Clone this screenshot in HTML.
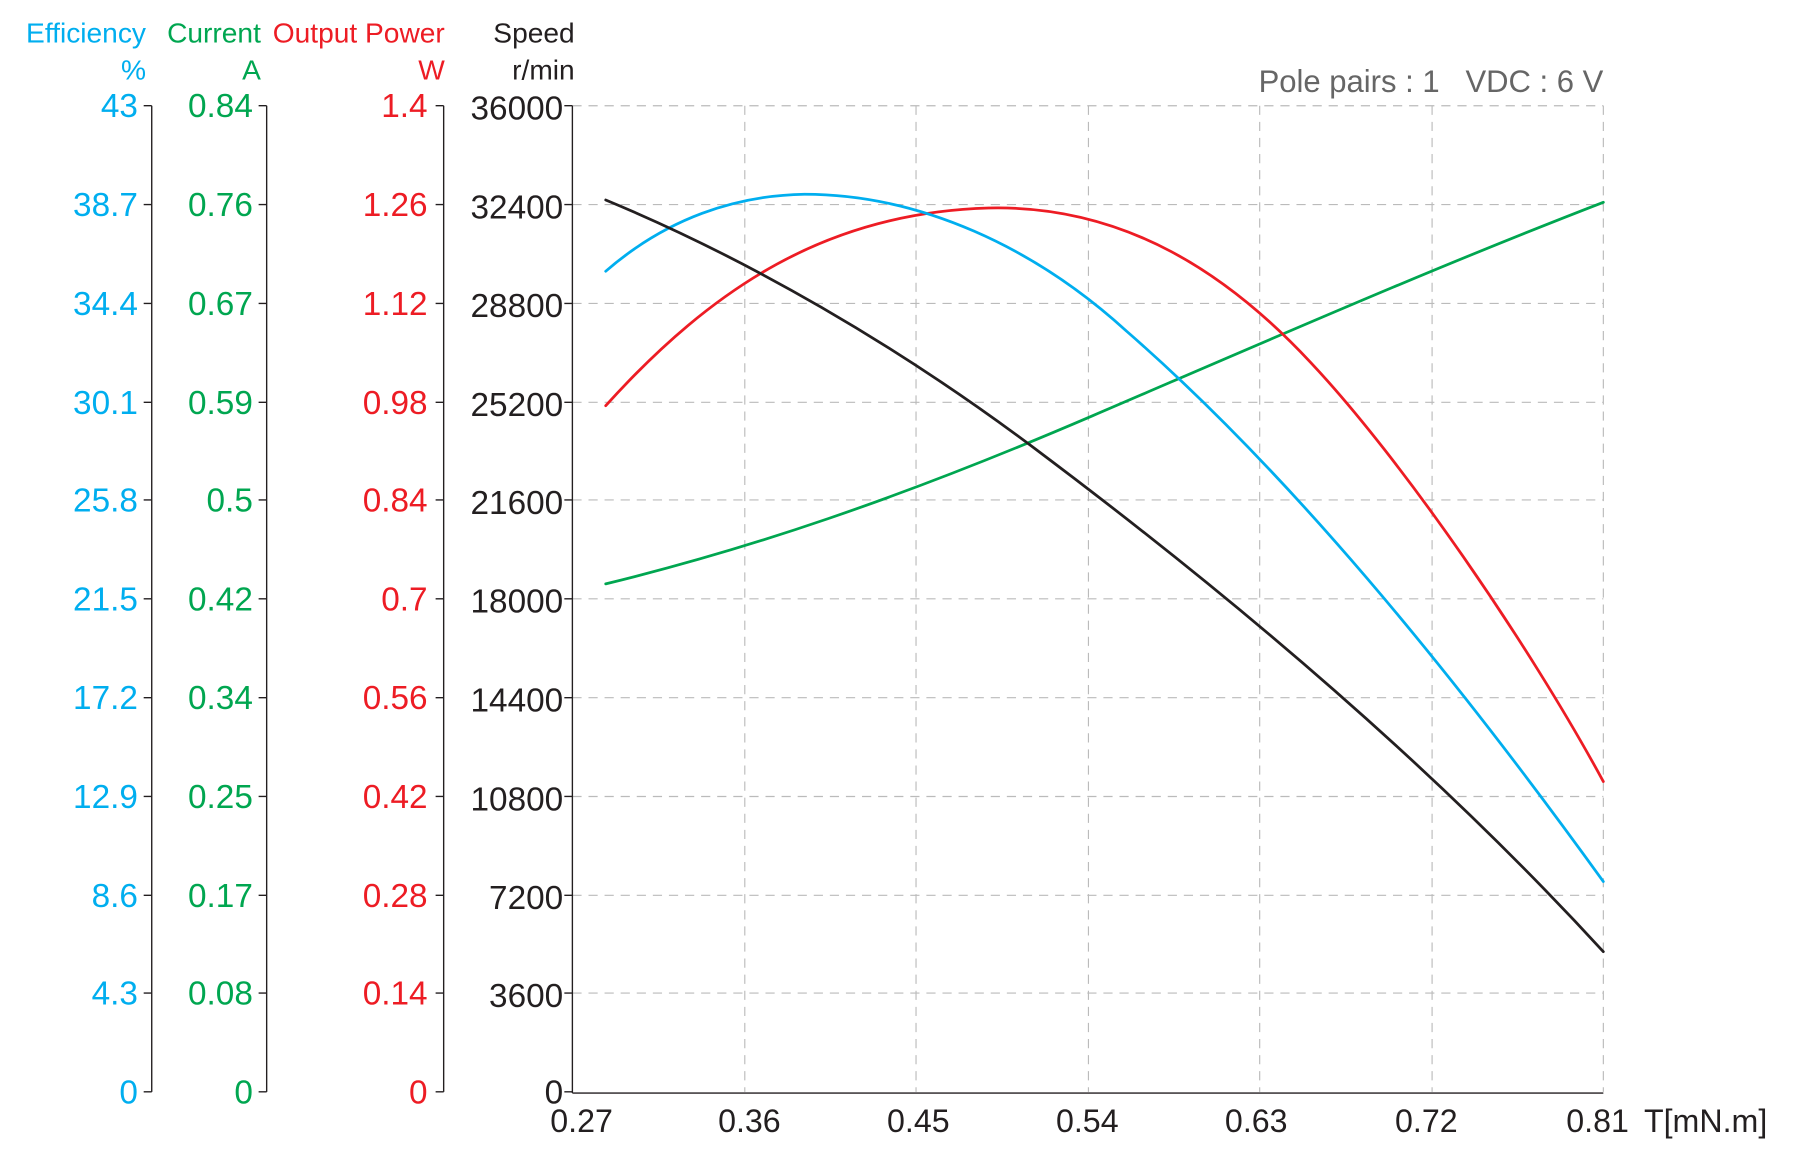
<!DOCTYPE html>
<html><head><meta charset="utf-8"><style>html,body{margin:0;padding:0;background:#fff}svg{display:block}</style></head><body>
<svg width="1793" height="1166" viewBox="0 0 1560 1014.5" xmlns="http://www.w3.org/2000/svg" font-family="Liberation Sans, sans-serif">
<g stroke="#bbb" stroke-width="1" stroke-dasharray="8,6" fill="none">
<line x1="498" y1="92" x2="1395" y2="92"/><line x1="498" y1="178" x2="1395" y2="178"/><line x1="498" y1="264" x2="1395" y2="264"/><line x1="498" y1="350" x2="1395" y2="350"/><line x1="498" y1="435" x2="1395" y2="435"/><line x1="498" y1="521" x2="1395" y2="521"/><line x1="498" y1="607" x2="1395" y2="607"/><line x1="498" y1="693" x2="1395" y2="693"/><line x1="498" y1="779" x2="1395" y2="779"/><line x1="498" y1="864" x2="1395" y2="864"/>
<line x1="648" y1="92" x2="648" y2="950"/><line x1="797" y1="92" x2="797" y2="950"/><line x1="947" y1="92" x2="947" y2="950"/><line x1="1096" y1="92" x2="1096" y2="950"/><line x1="1246" y1="92" x2="1246" y2="950"/><line x1="1395" y1="92" x2="1395" y2="950"/>
</g>
<g stroke="#231f20" stroke-width="1.2" fill="none">
<line x1="498" y1="92" x2="498" y2="951"/><line x1="498" y1="951" x2="1395" y2="951"/>
<line x1="132" y1="92" x2="132" y2="950"/><line x1="232" y1="92" x2="232" y2="950"/><line x1="386" y1="92" x2="386" y2="950"/>
</g>
<g stroke="#231f20" stroke-width="1.2">
<path d="M125 92h7M125 178h7M125 264h7M125 350h7M125 435h7M125 521h7M125 607h7M125 693h7M125 779h7M125 864h7M125 950h7"/>
<path d="M225 92h7M225 178h7M225 264h7M225 350h7M225 435h7M225 521h7M225 607h7M225 693h7M225 779h7M225 864h7M225 950h7"/>
<path d="M379 92h7M379 178h7M379 264h7M379 350h7M379 435h7M379 521h7M379 607h7M379 693h7M379 779h7M379 864h7M379 950h7"/>
<path d="M491 92h7M491 178h7M491 264h7M491 350h7M491 435h7M491 521h7M491 607h7M491 693h7M491 779h7M491 864h7M491 950h7"/>
</g>
<g font-size="29" text-anchor="end">
<g fill="#00aeef"><text x="120" y="102">43</text><text x="120" y="188">38.7</text><text x="120" y="274">34.4</text><text x="120" y="360">30.1</text><text x="120" y="445">25.8</text><text x="120" y="531">21.5</text><text x="120" y="617">17.2</text><text x="120" y="703">12.9</text><text x="120" y="789">8.6</text><text x="120" y="874">4.3</text><text x="120" y="960">0</text></g>
<g fill="#00a650"><text x="220" y="102">0.84</text><text x="220" y="188">0.76</text><text x="220" y="274">0.67</text><text x="220" y="360">0.59</text><text x="220" y="445">0.5</text><text x="220" y="531">0.42</text><text x="220" y="617">0.34</text><text x="220" y="703">0.25</text><text x="220" y="789">0.17</text><text x="220" y="874">0.08</text><text x="220" y="960">0</text></g>
<g fill="#ed1c24"><text x="372" y="102">1.4</text><text x="372" y="188">1.26</text><text x="372" y="274">1.12</text><text x="372" y="360">0.98</text><text x="372" y="445">0.84</text><text x="372" y="531">0.7</text><text x="372" y="617">0.56</text><text x="372" y="703">0.42</text><text x="372" y="789">0.28</text><text x="372" y="874">0.14</text><text x="372" y="960">0</text></g>
<g fill="#231f20"><text x="490" y="104">36000</text><text x="490" y="190">32400</text><text x="490" y="276">28800</text><text x="490" y="362">25200</text><text x="490" y="447">21600</text><text x="490" y="533">18000</text><text x="490" y="619">14400</text><text x="490" y="705">10800</text><text x="490" y="791">7200</text><text x="490" y="876">3600</text><text x="490" y="960">0</text></g>
</g>
<g font-size="28" fill="#231f20" text-anchor="middle">
<text x="506" y="985">0.27</text><text x="652" y="985">0.36</text><text x="799" y="985">0.45</text><text x="946" y="985">0.54</text><text x="1093" y="985">0.63</text><text x="1241" y="985">0.72</text><text x="1390" y="985">0.81</text>
<text x="1484" y="985">T[mN.m]</text>
</g>
<g font-size="24.5" text-anchor="end">
<text x="127" y="37" fill="#00aeef">Efficiency</text><text x="127" y="69" fill="#00aeef">%</text>
<text x="227" y="37" fill="#00a650">Current</text><text x="227" y="69" fill="#00a650">A</text>
<text x="387" y="37" fill="#ed1c24">Output Power</text><text x="387" y="69" fill="#ed1c24">W</text>
<text x="500" y="37" fill="#231f20">Speed</text><text x="500" y="69" fill="#231f20">r/min</text>
</g>
<text x="1395" y="80" font-size="27" fill="#666" text-anchor="end">Pole pairs : 1&#160;&#160;&#160;VDC : 6 V</text>
<g fill="none" stroke-width="2.4" stroke-linejoin="round" stroke-linecap="round">
<path stroke="#00a650" d="M527,508 C650,478 780,435 950,362 S1250,232 1395,176"/>
<path stroke="#ed1c24" d="M527,353 C620,250 720,185 860,181 C980,178 1070,240 1140,315 C1220,400 1330,560 1395,680"/>
<path stroke="#00aeef" d="M527,236 C580,190 640,170 700,169 C800,169 900,215 980,288 C1120,410 1260,580 1395,767"/>
<path stroke="#231f20" d="M527,174 C650,225 780,300 900,390 C1080,525 1250,670 1395,828"/>
</g>
</svg>
</body></html>
